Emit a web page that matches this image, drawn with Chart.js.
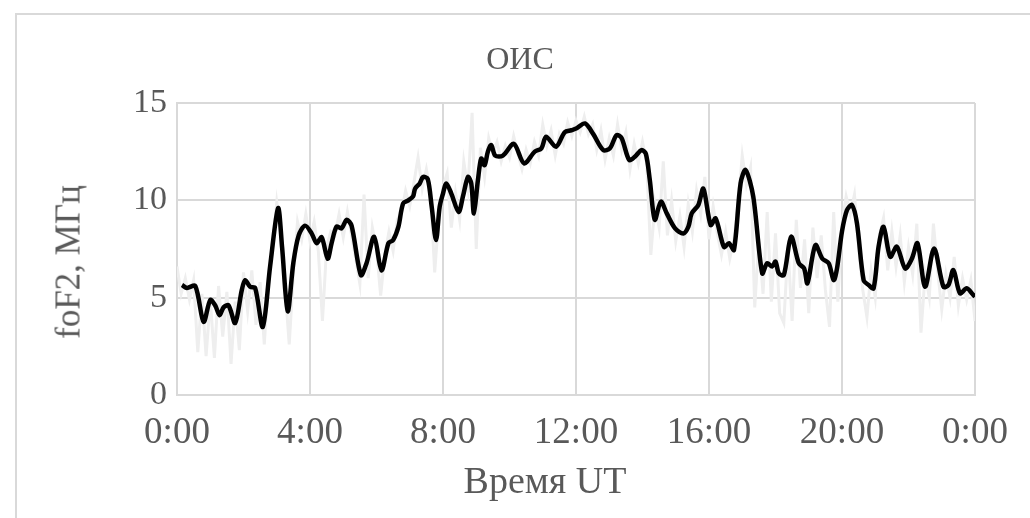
<!DOCTYPE html>
<html lang="ru">
<head>
  <meta charset="UTF-8" />
  <title>ОИС</title>
  <script src="https://cdn.jsdelivr.net/npm/chart.js"></script>
  <style>
    * { box-sizing: border-box; margin: 0; padding: 0; }
    html, body { width: 1030px; height: 518px; background: #fff; overflow: hidden; }
    body { font-family: 'Liberation Serif', 'Times New Roman', serif; color: #595959; }
    #frame {
      position: absolute; left: 15px; top: 13px;
      width: 1100px; height: 600px;
      border: 2px solid #d9d9d9;
    }
    #wrap { position: absolute; left: 0; top: 0; width: 1030px; height: 518px; }
    .label { position: absolute; white-space: nowrap; line-height: 1; }
    #title  { left: 520px; top: 58px; font-size: 32px; transform: translate(-50%, -50%); }
    #xtitle { left: 545px; top: 480px; font-size: 38px; transform: translate(-50%, -50%); }
    #ytitle { left: 68px; top: 262px; font-size: 35px; transform: translate(-50%, -50%) rotate(-90deg); }
  </style>
</head>
<body>
  <div id="frame"></div>
  <div id="wrap"><canvas id="chart"></canvas></div>
  <div class="label" id="title">ОИС</div>
  <div class="label" id="xtitle">Время UT</div>
  <div class="label" id="ytitle">foF2, МГц</div>

  <script>
    // time axis, hours UT
    const xTicks = [0, 4, 8, 12, 16, 20, 24];
    const yTicks = [0, 5, 10, 15];

    // raw foF2 readings, every 7.5 min from 0:00 to 24:00 (light grey trace)
    const rawStep = 0.125;
    const rawFoF2 = [
      6.6, 5.2, 6.0, 4.9, 5.9, 2.2, 5.2, 2.0,
      4.9, 1.9, 5.6, 3.0, 5.3, 1.6, 4.8, 2.3,
      6.3, 4.3, 6.4, 3.6, 5.8, 2.6, 6.0, 7.5,
      9.9, 8.2, 5.5, 2.6, 6.2, 8.9, 8.0, 9.3,
      7.9, 8.9, 7.4, 3.8, 7.6, 8.4, 8.2, 9.3,
      8.1, 9.4, 8.2, 7.0, 5.7, 10.3, 6.0, 8.6,
      7.5, 5.1, 7.2, 8.4, 7.4, 9.0, 9.4, 10.5,
      9.7, 10.9, 12.2, 10.6, 11.6, 10.4, 6.3, 9.2,
      10.7, 11.4, 8.6, 10.4, 9.0, 12.0, 10.6, 14.5,
      7.5, 12.7, 11.2, 13.2, 12.4, 13.0, 12.0, 12.8,
      12.2, 13.3, 12.4, 11.6, 12.6, 11.9, 13.0, 12.3,
      13.9, 12.8, 13.6, 12.3, 13.4, 12.9, 14.0, 13.3,
      14.1, 13.5, 14.3, 13.4, 13.9, 12.6, 13.6, 12.1,
      13.2, 12.3, 13.9, 12.6, 13.5, 11.6, 12.9, 11.9,
      13.0, 11.9, 7.2, 9.8, 8.6, 12.0, 8.2, 10.0,
      7.9, 9.2, 7.6, 9.8, 8.4, 10.5, 9.3, 11.2,
      8.0, 9.7, 8.3, 7.2, 8.4, 7.0, 8.0, 9.8,
      12.3, 10.8, 11.7, 4.5, 8.0, 5.2, 9.4, 4.8,
      8.3, 4.2, 3.7, 7.6, 3.8, 9.0, 5.5, 8.0,
      4.2, 8.6, 6.0, 8.2, 5.4, 3.5, 9.4, 4.8,
      8.8, 10.2, 9.3, 10.3, 7.6, 5.4, 4.0, 6.4,
      5.0, 8.2, 9.1, 6.4, 8.4, 6.6, 8.2, 5.8,
      7.6, 6.2, 8.8, 3.2, 6.2, 5.0, 8.8, 6.4,
      4.4, 6.2, 5.0, 7.1, 4.6, 6.0, 4.9, 5.9,
      3.8
    ];

    // smoothed foF2 (black trace)
    const smoothHours = [
      0.15, 0.3, 0.55, 0.8, 1.0, 1.15, 1.28, 1.4, 1.55, 1.75, 1.95, 2.05, 2.2, 2.35, 2.58, 2.8,
      3.04, 3.16, 3.33, 3.5, 3.66, 3.85, 4.05, 4.2, 4.35, 4.53, 4.65, 4.8, 4.95, 5.1, 5.25, 5.53,
      5.7, 5.93, 6.15, 6.36, 6.5, 6.66, 6.8, 6.96, 7.1, 7.16, 7.3, 7.4, 7.54, 7.66, 7.79, 7.9,
      8.0, 8.1, 8.25, 8.47, 8.6, 8.75, 8.85, 8.93, 9.05, 9.15, 9.25, 9.35, 9.45, 9.57, 9.8, 10.13,
      10.44, 10.76, 10.96, 11.1, 11.4, 11.66, 11.86, 12.02, 12.27, 12.52, 12.82, 13.02, 13.22, 13.37, 13.6, 13.77,
      13.97, 14.1, 14.22, 14.37, 14.55, 14.73, 14.98, 15.23, 15.38, 15.48, 15.68, 15.83, 16.05, 16.2, 16.45, 16.6,
      16.75, 16.95, 17.1, 17.33, 17.6, 17.75, 17.9, 18.0, 18.1, 18.25, 18.47, 18.7, 18.86, 18.96, 19.2, 19.41,
      19.6, 19.75, 19.85, 20.0, 20.15, 20.3, 20.45, 20.65, 20.8, 20.95, 21.1, 21.25, 21.45, 21.65, 21.9, 22.1,
      22.27, 22.5, 22.77, 23.05, 23.2, 23.35, 23.55, 23.75, 23.95, 24.0
    ];
    const smoothFoF2 = [
      5.65, 5.5, 5.6, 3.76, 4.88, 4.6, 4.1, 4.5, 4.6, 3.7, 5.4, 5.9, 5.56, 5.5, 3.5, 6.6,
      9.6, 7.6, 4.3, 6.8, 8.2, 8.7, 8.3, 7.8, 8.1, 7.0, 7.8, 8.65, 8.56, 9.0, 8.7, 6.16,
      6.77, 8.13, 6.4, 7.8, 7.96, 8.65, 9.84, 10.0, 10.2, 10.6, 10.87, 11.2, 11.1, 9.67, 7.96, 9.67,
      10.35, 10.87, 10.35, 9.4, 10.2, 11.2, 10.87, 9.33, 11.04, 12.15, 11.8, 12.5, 12.84, 12.3, 12.3, 12.9,
      11.9, 12.5, 12.67, 13.27, 12.75, 13.5, 13.6, 13.7, 13.95, 13.4, 12.58, 12.67, 13.35, 13.2, 12.07, 12.24,
      12.58, 12.4, 11.04, 9.0, 9.93, 9.33, 8.56, 8.3, 8.65, 9.33, 9.76, 10.6, 8.73, 9.07, 7.6, 7.8,
      7.45, 10.87, 11.56, 10.2, 6.25, 6.77, 6.6, 6.85, 6.25, 6.16, 8.13, 6.77, 6.5, 5.74, 7.7, 7.0,
      6.77, 5.9, 6.5, 8.4, 9.5, 9.76, 8.82, 5.9, 5.65, 5.48, 7.62, 8.64, 7.1, 7.62, 6.5, 7.0,
      7.8, 5.56, 7.53, 5.56, 5.65, 6.42, 5.22, 5.48, 5.14, 5.05
    ];

    const rawPoints = rawFoF2.map((v, i) => ({ x: i * rawStep, y: v }));
    const smoothPoints = smoothHours.map((h, i) => ({ x: h, y: smoothFoF2[i] }));

    const textColor = '#595959';
    const gridColor = '#d9d9d9';
    const serif = "'Liberation Serif', 'Times New Roman', serif";

    new Chart(document.getElementById('chart'), {
      type: 'line',
      data: {
        datasets: [
          {
            label: 'foF2',
            data: smoothPoints,
            borderColor: '#000000',
            borderWidth: 4.5,
            pointRadius: 0,
            tension: 0.3,
            order: 1
          },
          {
            label: 'foF2 raw',
            data: rawPoints,
            borderColor: '#eeeeee',
            borderWidth: 3,
            pointRadius: 0,
            tension: 0,
            order: 2
          }
        ]
      },
      options: {
        responsive: true,
        maintainAspectRatio: false,
        animation: false,
        layout: { padding: { left: 0, right: 55, top: 103, bottom: 0 } },
        plugins: {
          legend: { display: false },
          tooltip: { enabled: false },
          title: { display: false }
        },
        scales: {
          x: {
            type: 'linear',
            min: 0,
            max: 24,
            afterBuildTicks: (axis) => { axis.ticks = xTicks.map(v => ({ value: v })); },
            afterFit: (axis) => { axis.height = 123; },
            ticks: {
              color: textColor,
              font: { family: serif, size: 37 },
              padding: 16,
              maxRotation: 0,
              callback: (v) => (v % 24) + ':00'
            },
            grid: { color: gridColor, lineWidth: 2, drawTicks: false },
            border: { color: gridColor, width: 2 }
          },
          y: {
            min: 0,
            max: 15,
            afterBuildTicks: (axis) => { axis.ticks = yTicks.map(v => ({ value: v })); },
            afterFit: (axis) => { axis.width = 177; },
            ticks: {
              color: textColor,
              font: { family: serif, size: 34 },
              padding: 10
            },
            grid: { color: gridColor, lineWidth: 2, drawTicks: false },
            border: { color: gridColor, width: 2 }
          }
        }
      }
    });
  </script>
</body>
</html>
